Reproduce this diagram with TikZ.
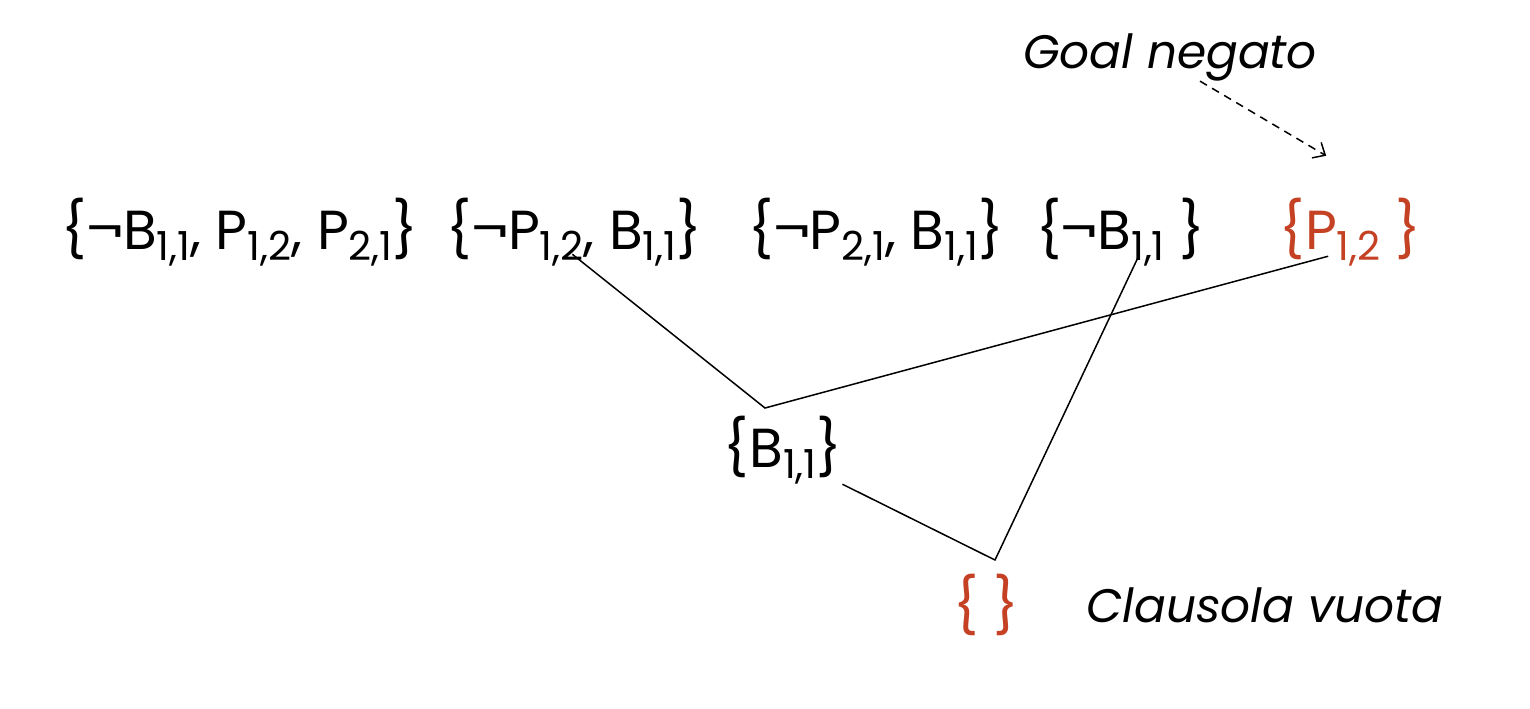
\documentclass[tikz,border=0pt]{standalone}
\usepackage{fontspec}
\setmainfont{Poppins}
\usetikzlibrary{positioning,arrows,arrows.meta}
\definecolor{goalred}{RGB}{196,65,35}
\newcommand{\ix}[1]{\raisebox{-0.35ex}{\fontsize{20}{20}\selectfont #1}}

\begin{document}
\begin{tikzpicture}[x=0.5pt, y=-0.5pt,
    clause/.style={inner sep=0pt, font=\fontsize{27.5}{32}\selectfont},
    note/.style={inner sep=0pt, font=\fontsize{23.5}{28}\selectfont\itshape},
    link/.style={draw=black, line width=0.75pt}
    ]
        \useasboundingbox (0,0) rectangle (1530,708);
        %Nodes
        \node[clause]
            (kb1) at (240,232)      {\{¬B\ix{1,1}, P\ix{1,2}, P\ix{2,1}\}};
        \node[clause]
            (kb2) [right=14pt of kb1] {\{¬P\ix{1,2}, B\ix{1,1}\}};
        \node[clause]
            (kb3) [right=23pt of kb2] {\{¬P\ix{2,1}, B\ix{1,1}\}};
        \node[clause]
            (kb4) [right=16pt of kb3] {\{¬B\ix{1,1} \}};
        \node[clause, text=goalred]
            (neg) [right=37pt of kb4] {\{P\ix{1,2} \}};
        \node[note]
            (goal) at (1170,57)     {Goal negato};
        \node[clause]
            (res1) at (783,450)     {\{B\ix{1,1}\}};
        \node[clause, text=goalred]
            (empty) at (986,605)    {\{ \}};
        \node[note]
            (vuota) at (1265,605)   {Clausola vuota};
        \coordinate (r1) at (765,408);
        \coordinate (r2) at (995,560);

        %Lines
        \draw[link]
            ([xshift=-1pt, yshift=6pt]kb2.south) -- (r1) -- ([xshift=-11pt, yshift=5pt]neg.south);
        \draw[link]
            (res1.south east) -- (r2) -- ([xshift=9pt, yshift=5pt]kb4.south);
        \draw[-{Straight Barb[length=5pt, width=9pt]}, draw=black, line width=0.75pt, dash pattern=on 4pt off 3pt]
            ([xshift=15pt]goal.south) -- ([xshift=-12pt, yshift=21pt]neg.north);
    \end{tikzpicture}
\end{document}
